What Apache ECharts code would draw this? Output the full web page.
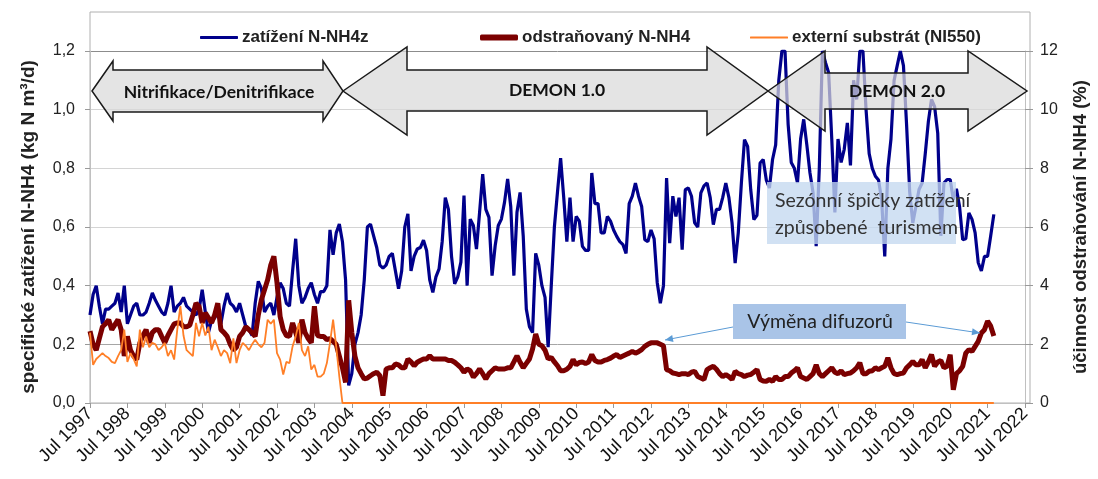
<!DOCTYPE html>
<html>
<head>
<meta charset="utf-8">
<script src="https://cdn.jsdelivr.net/npm/echarts@6/dist/echarts.min.js"></script>
<style>
    html, body { margin: 0; padding: 0; background: #fff; }
    #chart { width: 1098px; height: 479px; }
</style>
</head>
<body>
<div id="chart"></div>
<script>
// měsíční hodnoty, první měsíc = Jul 1997
var startYear = 1997;
var lastTickMonth = 300; // Jul 2022

var seriesNames = ['zatížení N-NH4z', 'odstraňovaný N-NH4', 'externí substrát (NI550)'];

// zatížení N-NH4z (kg N/m3/d)
var zatizeni = [
    0.30, 0.37, 0.40, 0.33, 0.27, 0.32, 0.32, 0.33, 0.34, 0.375, 0.31, 0.40,
    0.27, 0.30, 0.33, 0.34, 0.30, 0.30, 0.31, 0.34, 0.375, 0.35, 0.33, 0.31,
    0.30, 0.34, 0.40, 0.31, 0.33, 0.34, 0.36, 0.33, 0.32, 0.31, 0.30, 0.32,
    0.386, 0.31, 0.24, 0.28, 0.29, 0.31, 0.27, 0.33, 0.375, 0.34, 0.33, 0.31,
    0.34, 0.30, 0.26, 0.25, 0.23, 0.34, 0.415, 0.39, 0.31, 0.33, 0.34, 0.30,
    0.36, 0.41, 0.39, 0.34, 0.33, 0.45, 0.56, 0.40, 0.34, 0.36, 0.39, 0.41,
    0.37, 0.34, 0.38, 0.38, 0.40, 0.59, 0.505, 0.58, 0.61, 0.55, 0.42, 0.06,
    0.10, 0.20, 0.24, 0.30, 0.42, 0.60, 0.61, 0.57, 0.53, 0.47, 0.46, 0.47,
    0.50, 0.51, 0.45, 0.39, 0.45, 0.60, 0.645, 0.45, 0.50, 0.525, 0.53, 0.555,
    0.52, 0.42, 0.377, 0.43, 0.457, 0.55, 0.70, 0.66, 0.50, 0.406, 0.43, 0.48,
    0.707, 0.40, 0.627, 0.605, 0.525, 0.65, 0.78, 0.66, 0.633, 0.434, 0.536, 0.605,
    0.627, 0.684, 0.764, 0.67, 0.434, 0.65, 0.718, 0.57, 0.32, 0.26, 0.24, 0.51,
    0.47, 0.40, 0.36, 0.19, 0.40, 0.60, 0.72, 0.835, 0.70, 0.55, 0.70, 0.55,
    0.636, 0.62, 0.534, 0.52, 0.52, 0.784, 0.68, 0.68, 0.58, 0.58, 0.636, 0.62,
    0.59, 0.568, 0.55, 0.54, 0.51, 0.68, 0.705, 0.75, 0.705, 0.67, 0.557, 0.55,
    0.59, 0.56, 0.41, 0.34, 0.40, 0.767, 0.545, 0.705, 0.636, 0.70, 0.523, 0.727,
    0.733, 0.705, 0.614, 0.60, 0.716, 0.74, 0.75, 0.70, 0.608, 0.66, 0.66, 0.70,
    0.75, 0.70, 0.614, 0.477, 0.58, 0.75, 0.898, 0.875, 0.727, 0.625, 0.64, 0.818,
    0.83, 0.76, 0.733, 0.83, 0.88, 1.10, 1.20, 1.20, 0.95, 0.82, 0.80, 0.75,
    0.90, 0.967, 0.88, 0.785, 0.717, 0.535, 0.80, 1.20, 1.16, 1.126, 0.90, 0.65,
    0.90, 0.82, 0.865, 0.955, 0.81, 1.10, 1.035, 1.20, 1.20, 1.00, 0.85, 0.80,
    0.773, 0.76, 0.694, 0.50, 0.80, 0.90, 1.10, 1.15, 1.20, 1.15, 0.95, 0.72,
    0.614, 0.67, 0.728, 0.75, 0.85, 0.96, 1.035, 1.01, 0.92, 0.57, 0.75, 0.762,
    0.762, 0.694, 0.73, 0.67, 0.557, 0.56, 0.648, 0.626, 0.58, 0.478, 0.45, 0.50,
    0.50, 0.57, 0.643
];

// odstraňovaný N-NH4
var odstranovany = [
    0.245, 0.20, 0.18, 0.22, 0.26, 0.27, 0.284, 0.25, 0.267, 0.284, 0.25, 0.16,
    0.227, 0.18, 0.16, 0.148, 0.205, 0.23, 0.25, 0.205, 0.24, 0.25, 0.25, 0.227,
    0.205, 0.23, 0.25, 0.27, 0.273, 0.273, 0.26, 0.26, 0.265, 0.30, 0.34, 0.33,
    0.273, 0.307, 0.29, 0.273, 0.30, 0.34, 0.25, 0.24, 0.227, 0.20, 0.18, 0.19,
    0.227, 0.24, 0.26, 0.25, 0.24, 0.227, 0.30, 0.352, 0.386, 0.42, 0.47, 0.50,
    0.41, 0.295, 0.25, 0.23, 0.227, 0.273, 0.24, 0.205, 0.284, 0.24, 0.22, 0.205,
    0.33, 0.23, 0.227, 0.227, 0.216, 0.22, 0.21, 0.20, 0.16, 0.12, 0.07, 0.35,
    0.24, 0.16, 0.12, 0.10, 0.082, 0.085, 0.093, 0.10, 0.105, 0.093, 0.025, 0.116,
    0.12, 0.12, 0.133, 0.13, 0.12, 0.12, 0.15, 0.14, 0.127, 0.139, 0.145, 0.15,
    0.15, 0.161, 0.15, 0.15, 0.15, 0.15, 0.15, 0.145, 0.145, 0.139, 0.13, 0.12,
    0.105, 0.116, 0.11, 0.088, 0.10, 0.116, 0.10, 0.082, 0.10, 0.11, 0.12, 0.116,
    0.116, 0.116, 0.12, 0.12, 0.14, 0.161, 0.139, 0.12, 0.135, 0.15, 0.184, 0.235,
    0.20, 0.195, 0.18, 0.15, 0.155, 0.14, 0.127, 0.11, 0.11, 0.115, 0.125, 0.148,
    0.13, 0.138, 0.14, 0.135, 0.14, 0.165, 0.145, 0.14, 0.14, 0.145, 0.148, 0.153,
    0.16, 0.165, 0.155, 0.16, 0.165, 0.17, 0.176, 0.17, 0.175, 0.182, 0.193, 0.20,
    0.205, 0.205, 0.205, 0.20, 0.195, 0.114, 0.11, 0.102, 0.10, 0.097, 0.10, 0.10,
    0.097, 0.105, 0.108, 0.09, 0.085, 0.08, 0.114, 0.12, 0.125, 0.115, 0.10, 0.09,
    0.097, 0.09, 0.08, 0.108, 0.10, 0.097, 0.09, 0.095, 0.097, 0.105, 0.114, 0.08,
    0.075, 0.074, 0.08, 0.074, 0.09, 0.08, 0.08, 0.09, 0.09, 0.102, 0.11, 0.12,
    0.09, 0.085, 0.08, 0.09, 0.10, 0.13, 0.10, 0.09, 0.10, 0.11, 0.12, 0.105,
    0.10, 0.11, 0.097, 0.10, 0.102, 0.11, 0.12, 0.137, 0.10, 0.10, 0.108, 0.11,
    0.12, 0.114, 0.12, 0.125, 0.154, 0.12, 0.10, 0.097, 0.10, 0.102, 0.12, 0.13,
    0.142, 0.13, 0.13, 0.148, 0.12, 0.14, 0.165, 0.125, 0.14, 0.145, 0.12, 0.125,
    0.165, 0.045, 0.10, 0.11, 0.125, 0.17, 0.182, 0.176, 0.193, 0.21, 0.239, 0.25,
    0.279, 0.262, 0.228
];

// externí substrát (NI550), potom nulový až do konce
var substrat = [
    0.24, 0.13, 0.15, 0.16, 0.17, 0.16, 0.153, 0.14, 0.136, 0.16, 0.18, 0.25,
    0.14, 0.17, 0.15, 0.125, 0.25, 0.19, 0.227, 0.19, 0.205, 0.20, 0.18, 0.19,
    0.205, 0.16, 0.18, 0.148, 0.25, 0.33, 0.23, 0.18, 0.17, 0.16, 0.273, 0.227,
    0.273, 0.23, 0.26, 0.18, 0.216, 0.19, 0.16, 0.18, 0.17, 0.136, 0.22, 0.136,
    0.18, 0.205, 0.195, 0.18, 0.20, 0.216, 0.20, 0.19, 0.205, 0.284, 0.27, 0.284,
    0.17, 0.148, 0.097, 0.14, 0.136, 0.193, 0.227, 0.273, 0.18, 0.16, 0.193, 0.114,
    0.13, 0.09, 0.09, 0.10, 0.136, 0.205, 0.284, 0.193, 0.09, 0
];
var substratLast = [290, 0];

function toPoints(arr) {
    return arr.map(function (v, i) { return [i, v]; });
}

// šipka k popisku "Výměna difuzorů"
function arrowHead(x1, y1, x2, y2) {
    var a = Math.atan2(y2 - y1, x2 - x1), len = 8, w = 3.5;
    var c = Math.cos(a), s = Math.sin(a);
    return [[x2, y2], [x2 - len * c + w * s, y2 - len * s - w * c], [x2 - len * c - w * s, y2 - len * s + w * c]];
}

function doubleArrow(xl, xr, headL, headR, yc, headTop, headBot, shaftTop, shaftBot) {
    return [[xl, yc], [headL, headTop], [headL, shaftTop], [headR, shaftTop], [headR, headTop], [xr, yc],
        [headR, headBot], [headR, shaftBot], [headL, shaftBot], [headL, headBot]];
}

var arrowStyle = { fill: 'rgba(217,217,217,0.72)', stroke: '#1a1a1a', lineWidth: 1.5 };
var arrowText = { fill: '#111', font: 'bold 17.5px Lato', align: 'center', verticalAlign: 'middle' };

(function () {
    var myChart = echarts.init(document.getElementById('chart'));
    var axisFont = 'Liberation Sans';
    function legendAt(left, idx, h) {
        return {
            left: left,
            top: 24,
            data: [seriesNames[idx]],
            icon: 'roundRect',
            itemWidth: 38,
            itemHeight: h,
            textStyle: { color: '#222', fontSize: 17, fontWeight: 'bold', fontFamily: axisFont, padding: [0, 0, 0, -1] }
        };
    }
    var option = {
        animation: false,
        color: ['#00008b', '#7b0000', '#ff7f27'],
        legend: [legendAt(195, 0, 3), legendAt(475, 1, 6), legendAt(745, 2, 2)],
        grid: { left: 90, right: 68, top: 51, bottom: 76, containLabel: false },
        xAxis: {
            type: 'value',
            min: 0,
            max: lastTickMonth,
            interval: 12,
            axisLine: { lineStyle: { color: '#c0c0c0' } },
            axisTick: { length: 5, lineStyle: { color: '#999' } },
            splitLine: { show: false },
            axisLabel: {
                rotate: 45,
                margin: 8,
                color: '#111',
                fontSize: 18,
                fontFamily: axisFont,
                formatter: function (v) { return 'Jul ' + (startYear + v / 12); }
            }
        },
        yAxis: [
            {
                type: 'value',
                min: 0,
                max: 1.2,
                interval: 0.2,
                name: 'specifické zatížení N-NH4 (kg N m³/d)',
                nameLocation: 'middle',
                nameGap: 52,
                nameTextStyle: { color: '#222', fontSize: 19, fontWeight: 'bold', fontFamily: axisFont },
                axisLine: { show: true, lineStyle: { color: '#c0c0c0' } },
                axisTick: { show: true, length: 5, lineStyle: { color: '#999' } },
                axisLabel: {
                    margin: 15, color: '#222', fontSize: 16, fontFamily: axisFont,
                    formatter: function (v) { return v.toFixed(1).replace('.', ','); }
                },
                splitLine: {
                    lineStyle: { color: ['#c8c8c8', '#a6a6a6', '#d4d4d4', '#d4d4d4', '#d4d4d4', '#d4d4d4', '#8c8c8c'] }
                }
            },
            {
                type: 'value',
                min: 0,
                max: 12,
                interval: 2,
                position: 'right',
                name: 'účinnost odstraňování N-NH4 (%)',
                nameLocation: 'middle',
                nameRotate: 90,
                nameGap: 46,
                nameTextStyle: { color: '#222', fontSize: 18.5, fontWeight: 'bold', fontFamily: axisFont },
                axisLine: { show: true, lineStyle: { color: '#c0c0c0' } },
                axisTick: { show: true, length: 8, lineStyle: { color: '#999' } },
                axisLabel: { margin: 15, color: '#222', fontSize: 16, fontFamily: axisFont },
                splitLine: { show: false }
            }
        ],
        series: [
            {
                name: seriesNames[0],
                type: 'line',
                symbol: 'none',
                data: toPoints(zatizeni),
                lineStyle: { width: 3.2, color: '#00008b' },
                z: 2
            },
            {
                name: seriesNames[1],
                type: 'line',
                symbol: 'none',
                data: toPoints(odstranovany),
                lineStyle: { width: 5, color: '#7b0000' },
                z: 3
            },
            {
                name: seriesNames[2],
                type: 'line',
                symbol: 'none',
                data: toPoints(substrat).concat([substratLast]),
                lineStyle: { width: 1.8, color: '#ff7f27' },
                z: 4
            }
        ],
        graphic: [
            // rámeček plochy grafu
            { type: 'rect', z: -1, silent: true, shape: { x: 90, y: 12, width: 940, height: 391 },
              style: { fill: 'none', stroke: '#b0b0b0', lineWidth: 1 } },
            // fáze provozu
            { type: 'polygon', z: 50, shape: { points: doubleArrow(92, 343, 113, 323, 91, 61, 121, 70, 112) }, style: arrowStyle },
            { type: 'polygon', z: 50, shape: { points: doubleArrow(343, 768, 407, 707, 91, 47, 135, 70, 111) }, style: arrowStyle },
            { type: 'polygon', z: 50, shape: { points: doubleArrow(768, 1027, 825, 968, 91, 51, 131, 73, 109) }, style: arrowStyle },
            { type: 'text', z: 51, x: 219, y: 92, style: Object.assign({ text: 'Nitrifikace/Denitrifikace' }, arrowText) },
            { type: 'text', z: 51, x: 557, y: 90, style: Object.assign({ text: 'DEMON 1.0' }, arrowText) },
            { type: 'text', z: 51, x: 897, y: 91, style: Object.assign({ text: 'DEMON 2.0' }, arrowText) },
            // popisky
            { type: 'rect', z: 50, shape: { x: 767, y: 182, width: 189, height: 62 },
              style: { fill: 'rgba(196,216,240,0.78)' } },
            { type: 'text', z: 51, x: 775, y: 201, style: { text: 'Sezónní špičky zatížení', fill: '#333', font: '19.5px Lato', verticalAlign: 'middle' } },
            { type: 'text', z: 51, x: 775, y: 228, style: { text: 'způsobené  turismem', fill: '#333', font: '19.5px Lato', verticalAlign: 'middle' } },
            { type: 'rect', z: 50, shape: { x: 733, y: 304, width: 173, height: 35 },
              style: { fill: 'rgba(160,190,228,0.9)' } },
            { type: 'text', z: 51, x: 820, y: 322, style: { text: 'Výměna difuzorů', fill: '#222', font: '19.5px Lato', align: 'center', verticalAlign: 'middle' } },
            { type: 'line', z: 51, shape: { x1: 733, y1: 327, x2: 665, y2: 340 }, style: { stroke: '#5b9bd5', lineWidth: 1 } },
            { type: 'polygon', z: 51, shape: { points: arrowHead(733, 327, 665, 340) }, style: { fill: '#5b9bd5' } },
            { type: 'line', z: 51, shape: { x1: 906, y1: 322, x2: 980, y2: 333 }, style: { stroke: '#5b9bd5', lineWidth: 1 } },
            { type: 'polygon', z: 51, shape: { points: arrowHead(906, 322, 980, 333) }, style: { fill: '#5b9bd5' } }
        ]
    };
    myChart.setOption(option);
    window.addEventListener('resize', function () {
        myChart.resize();
    });
})();
</script>
</body>
</html>
